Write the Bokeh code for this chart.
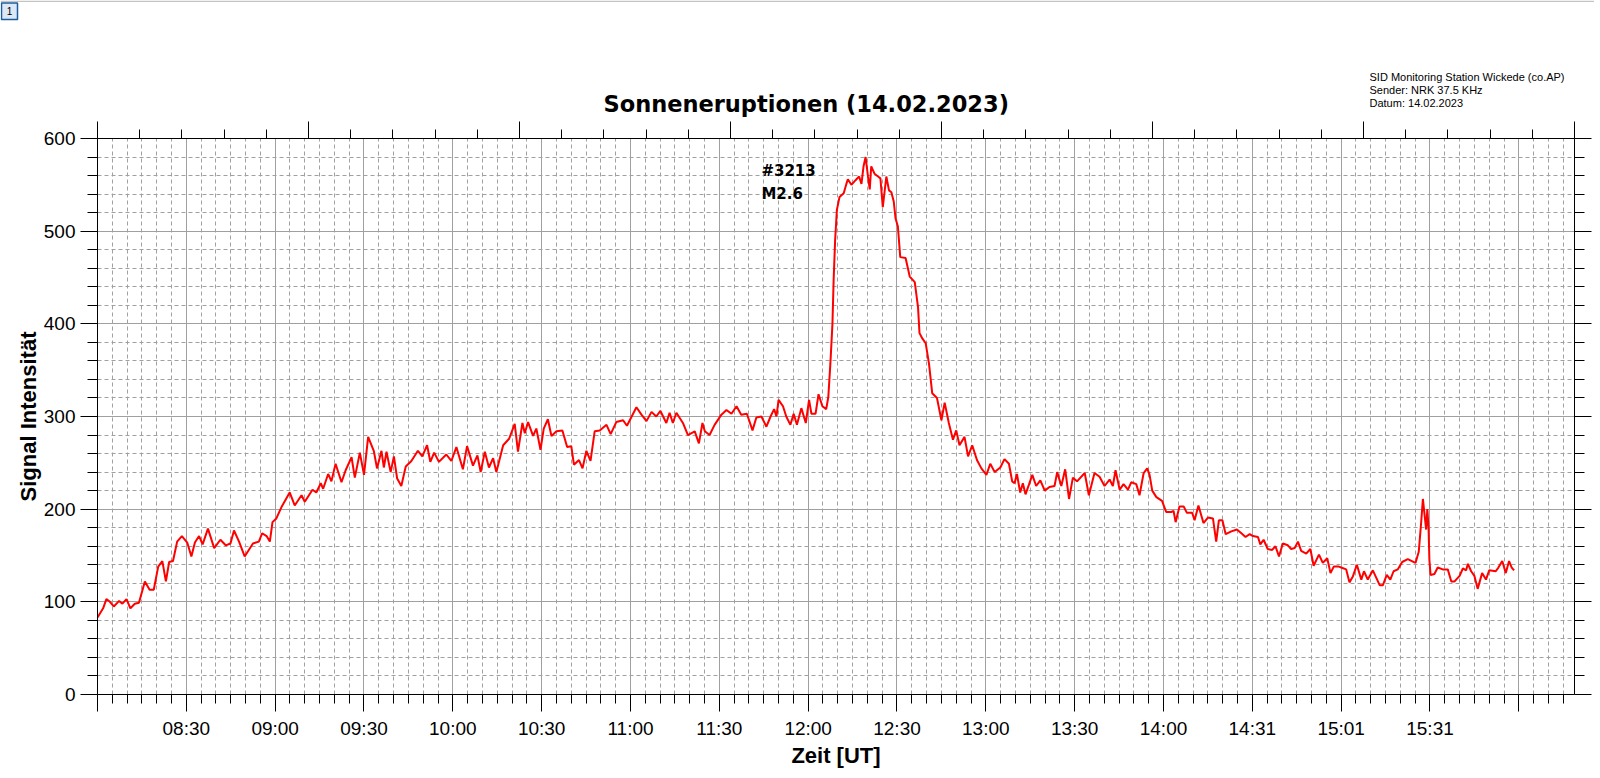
from bokeh.plotting import figure
from bokeh.models import Range1d, LinearAxis, FixedTicker, SingleIntervalTicker, Label
from bokeh.layouts import column
from bokeh.embed import file_html
from bokeh.resources import INLINE

# minutes after 08:00 UT
minutes = [0.0, 1.9, 3.0, 4.2, 5.5, 7.3, 8.4, 9.8, 11.1, 12.6, 14.0, 16.0, 17.6, 19.0, 20.5, 21.9, 23.1, 24.2, 25.5, 26.9,
           28.5, 30.3, 31.7, 32.9, 34.3, 35.5, 37.3, 39.4, 41.5, 43.3, 44.9, 46.1, 47.8, 49.7, 52.5, 54.5, 55.6, 57.1, 58.2, 59.1,
           60.4, 62.1, 64.9, 66.6, 68.9, 70.0, 72.6, 73.9, 75.4, 76.2, 77.9, 79.0, 80.4, 82.4, 83.8, 85.8, 86.9, 88.6, 90.0, 91.4,
           93.3, 94.4, 95.9, 96.7, 97.6, 99.0, 100.1, 101.2, 102.6, 104.1, 106.0, 108.2, 109.7, 111.3, 112.4, 113.7, 115.3, 117.8, 119.5, 121.2,
           123.4, 124.8, 126.8, 128.3, 129.4, 130.8, 132.2, 133.6, 134.7, 137.0, 139.0, 140.9, 142.0, 143.5, 144.3, 145.4, 147.1, 148.2, 149.6, 150.7,
           152.1, 153.3, 155.0, 157.0, 158.6,
           160.0, 160.9, 162.6, 163.8, 165.1, 166.5, 167.9, 169.6, 171.9, 173.3, 175.2, 177.5, 178.8, 182.0, 183.7, 185.4, 187.1, 188.7, 190.1, 192.1,
           193.2, 194.3, 195.5, 197.7, 199.4, 201.7, 203.1, 204.3, 205.1, 206.7, 208.4, 210.7, 212.4, 214.1, 215.8, 217.4, 219.3, 221.2, 222.5, 224.2,
           225.9, 227.3, 228.5, 229.3, 230.0, 231.5, 232.6, 234.0, 235.1, 236.2, 237.7, 239.2, 240.3, 241.1, 242.5, 243.5, 244.8, 246.1, 246.8, 247.5,
           248.2, 248.6, 249.1, 249.7, 250.6, 252.0, 252.9, 253.4, 254.6, 256.0, 257.2, 258.0, 258.7, 259.4, 260.2, 260.8, 261.3, 262.4, 263.6, 264.4,
           265.2, 266.4, 267.3, 268.1, 268.9, 269.5, 270.3, 271.1, 272.9, 274.3, 276.0, 277.1, 277.6, 278.6, 279.7, 280.8, 281.9, 283.5, 285.0, 286.1,
           287.5, 288.9, 290.0, 291.1, 292.8, 294.0, 295.4, 297.0, 298.5, 300.2, 301.5, 303.0,
           304.9, 306.3, 307.8, 308.9, 309.7, 310.5, 311.6, 312.5, 313.4, 314.5, 315.7, 317.0, 318.4, 319.9, 321.5, 323.2, 324.1, 325.5, 326.8, 328.1,
           329.4, 330.8, 333.4, 334.8, 336.7, 338.4, 340.1, 341.8, 342.9, 343.8, 345.2, 346.5, 348.0, 349.1, 350.8, 351.9, 353.3, 354.5, 355.3, 356.2,
           357.6, 359.5, 360.9, 362.6, 363.4, 364.1, 365.4, 366.8, 367.9, 369.7, 370.5, 371.8, 373.5, 375.0, 376.7, 377.8, 378.7, 379.9, 381.0, 382.9,
           384.8, 386.3, 387.7, 389.1, 390.2, 391.9, 392.7, 393.8, 395.2, 396.7, 397.8, 399.0, 400.3, 402.0, 403.1, 404.3, 405.4, 406.5, 408.2, 409.6,
           410.7, 412.5, 413.8, 415.3, 416.4, 417.5, 419.2,
           420.0, 421.7, 422.8, 423.9, 425.3, 426.8, 427.7, 429.0, 430.7, 433.0, 434.1, 435.4, 436.6, 437.7, 439.1, 440.6, 442.5, 445.1, 446.2, 447.0,
           447.6, 448.1, 448.7, 449.1, 449.5, 449.8, 450.2, 451.5, 452.6, 454.3, 456.0, 457.2, 458.3, 460.0, 461.1, 462.2, 462.8, 463.9, 465.0, 466.1,
           467.6, 468.9, 470.0, 472.2, 473.1, 474.4, 475.6, 476.7, 477.6, 478.4]

signal = [83, 93, 103, 100, 95, 101, 98, 103, 93, 98, 99, 122, 113, 113, 138, 144, 122, 143, 144, 165,
          171, 164, 149, 164, 171, 162, 179, 158, 167, 161, 163, 177, 165, 149, 163, 165, 174, 171, 165, 186,
          190, 202, 218, 204, 215, 208, 221, 218, 228, 222, 238, 230, 249, 229, 242, 256, 234, 261, 237, 278,
          263, 244, 263, 245, 262, 240, 257, 233, 225, 246, 252, 263, 257, 269, 251, 261, 251, 259, 252, 267,
          243, 268, 247, 258, 240, 262, 245, 255, 240, 269, 276, 292, 262, 293, 282, 294, 279, 287, 264, 287,
          297, 279, 284, 285, 267,
          268, 248, 253, 244, 263, 252, 284, 285, 291, 281, 294, 296, 290, 310, 302, 295, 305, 300, 306, 293,
          304, 293, 304, 293, 280, 284, 271, 293, 284, 280, 291, 302, 307, 303, 311, 302, 303, 285, 299, 300,
          289, 300, 308, 300, 318, 311, 300, 291, 303, 291, 309, 293, 318, 303, 303, 324, 311, 308, 321, 357,
          400, 447, 490, 523, 537, 541, 551, 556, 550, 555, 559, 551, 570, 580, 559, 545, 570, 562, 559, 557,
          526, 559, 544, 542, 532, 514, 505, 472, 471, 451, 445, 418, 390, 384, 379, 357, 325, 320, 296, 315,
          293, 275, 285, 269, 278, 257, 269, 253, 244, 237, 249, 240,
          245, 254, 249, 230, 228, 238, 218, 228, 216, 226, 237, 225, 231, 220, 224, 225, 240, 225, 243, 211,
          234, 230, 239, 215, 239, 235, 225, 232, 225, 242, 221, 227, 221, 229, 227, 215, 239, 244, 237, 220,
          213, 209, 197, 197, 198, 186, 203, 203, 196, 196, 188, 204, 185, 191, 190, 165, 188, 188, 173, 176,
          178, 174, 170, 173, 171, 170, 162, 167, 157, 156, 160, 149, 163, 161, 157, 158, 165, 155, 152, 157,
          139, 151, 142, 147, 131, 138, 138,
          137, 135, 121, 127, 140, 124, 133, 124, 134, 118, 118, 129, 124, 133, 135, 143, 146, 142, 154, 185,
          211, 196, 178, 200, 181, 145, 129, 130, 137, 135, 135, 122, 122, 128, 136, 134, 141, 133, 128, 114,
          131, 124, 134, 133, 137, 144, 131, 144, 137, 134]

tick_minutes = [30, 60, 90, 120, 150, 180, 210, 240, 270, 300, 330, 360, 390, 420, 450]
tick_labels = ["08:30", "09:00", "09:30", "10:00", "10:30", "11:00", "11:30", "12:00",
               "12:30", "13:00", "13:30", "14:00", "14:31", "15:01", "15:31"]
y_major = [0, 100, 200, 300, 400, 500, 600]

title_text = "Sonneneruptionen (14.02.2023)"
info_lines = ["SID Monitoring Station Wickede (co.AP)", "Sender: NRK 37.5 KHz", "Datum: 14.02.2023"]
flare_lines = ["#3213", "M2.6"]

X_END = 498.8
GRID = "#a0a0a0"
TOTAL_W = 1594
HEAD_H = 120

# ---------------- header strip (title + station info) ----------------
head = figure(width=TOTAL_W, height=HEAD_H, x_range=Range1d(0, TOTAL_W), y_range=Range1d(0, HEAD_H),
              min_border=0, x_axis_location=None, y_axis_location=None,
              output_backend="svg", toolbar_location=None, title=None)
head.frame_align = False
head.grid.visible = False
head.outline_line_color = None
head.background_fill_color = "white"
head.border_fill_color = "white"

head.quad(left=0, right=TOTAL_W, bottom=HEAD_H - 1.5, top=HEAD_H, fill_color="#c4c4c4", line_color=None)
head.quad(left=1, right=17, bottom=HEAD_H - 19, top=HEAD_H - 2.5, fill_color="#dce8f6",
          line_color="#1b5d9e", line_width=1.5)
head.text(x=[9], y=[HEAD_H - 10.5], text=["1"], text_align="center", text_baseline="middle",
          text_font_size="10px", text_color="black")

head.add_layout(Label(x=603, y=HEAD_H - 103.2, text=title_text, text_align="left", text_baseline="alphabetic",
                      text_font="DejaVu Sans", text_font_style="bold", text_font_size="22.5px", text_color="black"))
info_base = [76.4, 89.7, 102.7]
for t, yy in zip(info_lines, info_base):
    head.add_layout(Label(x=1369, y=HEAD_H - yy, text=t, text_align="left", text_baseline="alphabetic",
                          text_font="Liberation Sans", text_font_size="11px", text_color="black"))

# ---------------- main chart ----------------
p = figure(frame_width=1477, frame_height=556, min_border_left=97, min_border_right=20,
           min_border_top=18, min_border_bottom=84,
           x_range=Range1d(0, X_END), y_range=Range1d(0, 600),
           output_backend="svg", toolbar_location=None, title=None)
p.frame_align = False
p.outline_line_color = None
p.background_fill_color = "white"
p.border_fill_color = "white"

major_x = [0] + tick_minutes + [480]
minor_x = [m for m in range(0, 500, 5) if m % 30 != 0]
xt = FixedTicker(ticks=major_x, minor_ticks=minor_x)
minor_y = [v for v in range(0, 601, 20) if v % 100 != 0]
yt = FixedTicker(ticks=y_major, minor_ticks=minor_y)

def style_axis(ax, tick_out=17, minor_out=9):
    ax.axis_line_color = "black"
    ax.axis_line_width = 1
    ax.major_tick_line_color = "black"
    ax.minor_tick_line_color = "black"
    ax.major_tick_in = 0
    ax.minor_tick_in = 0
    ax.major_tick_out = tick_out
    ax.minor_tick_out = minor_out
    ax.major_label_text_font = "Liberation Sans"
    ax.major_label_text_font_size = "19px"
    ax.major_label_text_color = "black"
    ax.axis_label_text_font = "Liberation Sans"
    ax.axis_label_text_font_size = "22px"
    ax.axis_label_text_font_style = "bold"
    ax.axis_label_text_color = "black"

xa = p.xaxis[0]
xa.ticker = xt
overrides = {0: "", 480: ""}
for m, lab in zip(tick_minutes, tick_labels):
    overrides[m] = lab
xa.major_label_overrides = overrides
style_axis(xa)
xa.major_label_standoff = 6
xa.axis_label = "Zeit [UT]"
xa.axis_label_standoff = 1

ya = p.yaxis[0]
ya.ticker = yt
style_axis(ya, 17, 10)
ya.major_label_standoff = 5
ya.axis_label = "Signal Intensität"
ya.axis_label_standoff = 0

p.extra_x_ranges = {"top": Range1d(0, 35)}
top = LinearAxis(x_range_name="top", ticker=SingleIntervalTicker(interval=5, num_minor_ticks=5))
style_axis(top, 17, 9)
top.major_label_text_font_size = "1px"
top.major_label_text_color = None
top.major_label_standoff = 0
p.add_layout(top, "above")

right = LinearAxis(ticker=yt)
style_axis(right, 17, 10)
right.major_label_text_font_size = "1px"
right.major_label_text_color = None
right.major_label_standoff = 0
p.add_layout(right, "right")

p.xgrid.ticker = xt
p.xgrid.grid_line_color = GRID
p.xgrid.grid_line_width = 1
p.xgrid.minor_grid_line_color = GRID
p.xgrid.minor_grid_line_dash = "4 3"
p.ygrid.ticker = yt
p.ygrid.grid_line_color = GRID
p.ygrid.grid_line_width = 1
p.ygrid.minor_grid_line_color = GRID
p.ygrid.minor_grid_line_dash = "4 3"

p.line(minutes, signal, line_color="#ff0000", line_width=2)

flare_y = [564.5, 539.7]
for t, yy in zip(flare_lines, flare_y):
    p.add_layout(Label(x=224.2, y=yy, text=t, text_align="left", text_baseline="alphabetic",
                       text_font="DejaVu Sans", text_font_style="bold", text_font_size="15px", text_color="black"))

open("out.html", "w").write(file_html(column(head, p), INLINE))
